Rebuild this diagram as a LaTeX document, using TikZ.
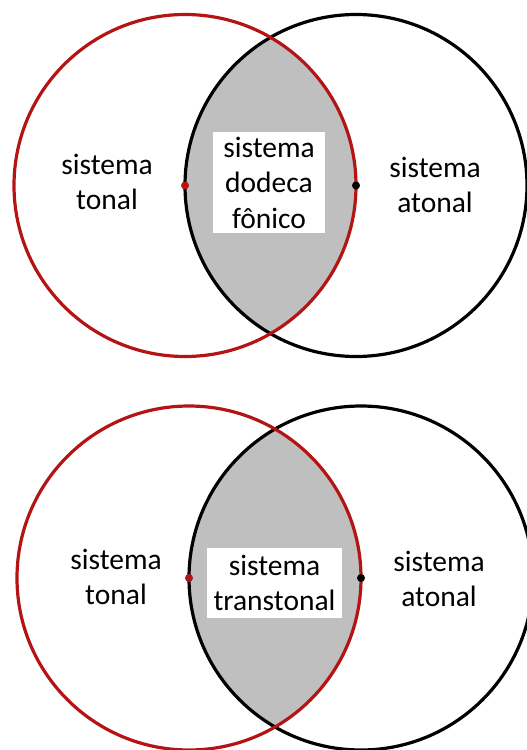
\documentclass[tikz,border=0pt]{standalone}
\usepackage{fontspec}
\setmainfont{Carlito}
\definecolor{tonalred}{RGB}{180,20,20}
\definecolor{lensgray}{RGB}{191,191,191}
\tikzset{
  ring/.style={line width=3.2pt},
  lbl/.style={align=center, font=\fontsize{29.5pt}{35.5pt}\selectfont, inner sep=0pt},
  whitebox/.style={lbl, fill=white},
  dotmark/.style={circle, inner sep=0pt, minimum size=8pt}
}
\begin{document}
\begin{tikzpicture}[x=1pt,y=-1pt]
\useasboundingbox (0,0) rectangle (527,750);
% ---------- top diagram ----------
\begin{scope}
  \clip (185,185.5) circle[radius=171pt];
  \fill[lensgray] (356,185.5) circle[radius=171pt];
\end{scope}
\draw[ring, black] (356,185.5) circle[radius=171pt];
\draw[ring, tonalred] (185,185.5) circle[radius=171pt];
\node[dotmark, fill=tonalred] (rd1) at (185,185.5) {};
\node[dotmark, fill=black] (bd1) at (356,185.5) {};
\node[whitebox, minimum width=112pt, minimum height=101pt] (mid1) at (269,182.5) {sistema\\dodeca\\fônico};
\node[lbl] (left1) at (107,182) {sistema\\tonal};
\node[lbl] (right1) at (435,185) {sistema\\atonal};
% ---------- bottom diagram ----------
\begin{scope}
  \clip (189,578) circle[radius=172pt];
  \fill[lensgray] (361,578) circle[radius=172pt];
\end{scope}
\draw[ring, black] (361,578) circle[radius=172pt];
\draw[ring, tonalred] (189,578) circle[radius=172pt];
\node[dotmark, fill=tonalred] (rd2) at (189,578) {};
\node[dotmark, fill=black] (bd2) at (361,578) {};
\node[whitebox, minimum width=135pt, minimum height=70pt] (mid2) at (274.5,583) {sistema\\transtonal};
\node[lbl] (left2) at (116,577) {sistema\\tonal};
\node[lbl] (right2) at (439,579) {sistema\\atonal};
\end{tikzpicture}
\end{document}
